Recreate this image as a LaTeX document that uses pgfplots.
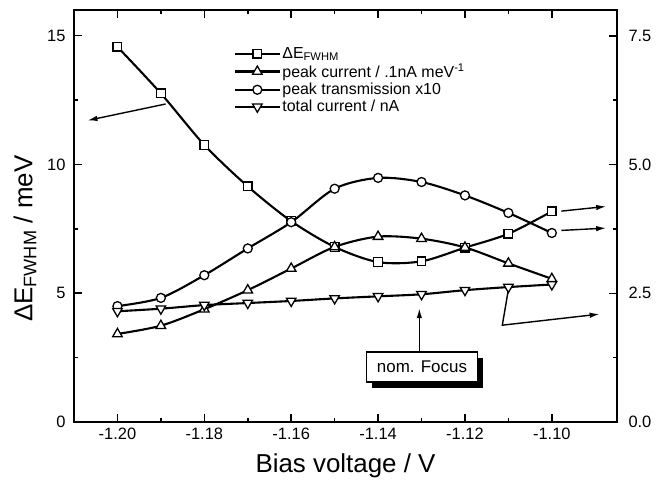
\documentclass[border=0pt]{standalone}
\usepackage{fontspec}
\setmainfont{Liberation Sans}
\usepackage{pgfplots}
\pgfplotsset{compat=1.18}
\usetikzlibrary{arrows.meta}
\pgfplotstableread{
x      dE     pc    pt    tc
-1.20  14.57  1.71  2.25  2.15
-1.19  12.76  1.87  2.41  2.20
-1.18  10.76  2.19  2.85  2.27
-1.17  9.15   2.56  3.37  2.31
-1.16  7.80   2.98  3.88  2.35
-1.15  6.80   3.40  4.53  2.40
-1.14  6.21   3.60  4.74  2.44
-1.13  6.24   3.56  4.66  2.48
-1.12  6.77   3.39  4.40  2.56
-1.11  7.31   3.08  4.06  2.62
-1.10  8.18   2.78  3.67  2.67
}\datatable
\begin{document}
\begin{tikzpicture}
\pgfplotsset{
  every axis/.append style={
    scale only axis, width=543bp, height=412bp,
    xmin=-1.21, xmax=-1.085,
    /pgf/number format/assume math mode=true,
    tick style={line width=1.5bp, black},
    major tick length=8bp, minor tick length=4.5bp,
    axis line style={line width=2bp},
    tick label style={font=\fontsize{16.5}{19}\selectfont},
    tick align=inside,
  },
  myplot/.style={black, line width=2.1bp, smooth,
    mark options={solid, fill=white, line width=1.3bp}},
}
\begin{axis}[name=main,
  ymin=0, ymax=16,
  ytick={0,5,10,15}, minor y tick num=1,
  ytick pos=left,
  yticklabel style={xshift=-5bp},
  xtick={-1.20,-1.18,-1.16,-1.14,-1.12,-1.10}, minor x tick num=1,
  xticklabel style={yshift=-3bp, /pgf/number format/.cd, fixed, fixed zerofill, precision=2},
  xlabel={Bias voltage / V},
  xlabel style={font=\fontsize{26}{30}\selectfont, yshift=-7bp},
  ylabel={ΔE\textsubscript{FWHM} / meV},
  ylabel style={font=\fontsize{26}{30}\selectfont, at={(ticklabel cs:0.445)}, yshift=4bp},
]
\addplot[myplot, mark=square*, mark size=4.3bp] table[x=x, y=dE] {\datatable};
\draw[-{Latex[length=10bp,width=5.5bp]}, line width=1.4bp] (axis cs:-1.1889,12.35) -- (axis cs:-1.2069,11.71);
\draw[-{Latex[length=10bp,width=5.5bp]}, line width=1.4bp] (axis cs:-1.0978,8.19) -- (axis cs:-1.0875,8.37);
\draw[-{Latex[length=10bp,width=5.5bp]}, line width=1.4bp] (axis cs:-1.0978,7.44) -- (axis cs:-1.0875,7.53);
\draw[-{Latex[length=10bp,width=5.5bp]}, line width=1.4bp] (axis cs:-1.1101,5.05) -- (axis cs:-1.1114,3.76) -- (axis cs:-1.0890,4.19);
\draw[-{Latex[length=10bp,width=5.5bp]}, line width=1.4bp] (axis cs:-1.1305,2.71) -- (axis cs:-1.1305,4.42);
\node[fill=black, minimum width=111bp, minimum height=30bp, inner sep=0pt] at ([xshift=6bp,yshift=-6bp]axis cs:-1.1299,2.14) {};
\node[draw, fill=white, line width=1.6bp, minimum width=111bp, minimum height=30bp, inner sep=0pt, font=\fontsize{17}{19}\selectfont] at (axis cs:-1.1299,2.14) {nom. Focus};
\end{axis}
\begin{axis}[
  ymin=0, ymax=8,
  axis y line*=right, axis x line=none,
  ytick={0,2.5,5,7.5}, minor y tick num=1,
  yticklabel style={xshift=8bp, /pgf/number format/.cd, fixed, fixed zerofill, precision=1},
  legend style={at={(0.293,0.917)}, anchor=north west, draw=none, fill=none,
    font=\fontsize{16}{18.5}\selectfont, row sep=0bp, inner sep=1bp},
  legend cell align=left,
  legend image code/.code={\draw[mark repeat=2,mark phase=2] plot coordinates {(0bp,0bp)(22bp,0bp)(44bp,0bp)};},
]
\addlegendimage{myplot, mark=square*, mark size=4.3bp}
\addlegendentry{ΔE\textsubscript{FWHM}}
\addplot[myplot, mark=triangle*, mark size=5.5bp] table[x=x, y=pc] {\datatable};
\addlegendentry{peak current / .1nA meV\textsuperscript{-1}}
\addplot[myplot, mark=*, mark size=4.5bp] table[x=x, y=pt] {\datatable};
\addlegendentry{peak transmission x10}
\addplot[myplot, mark=triangle*, mark size=5.5bp, mark options={solid, fill=white, line width=1.3bp, rotate=180}] table[x=x, y=tc] {\datatable};
\addlegendentry{total current / nA}
\end{axis}
\pgfresetboundingbox
\path[use as bounding box] ([xshift=-74bp,yshift=-59bp]main.south west) rectangle ([xshift=44bp,yshift=10bp]main.north east);
\end{tikzpicture}
\end{document}
